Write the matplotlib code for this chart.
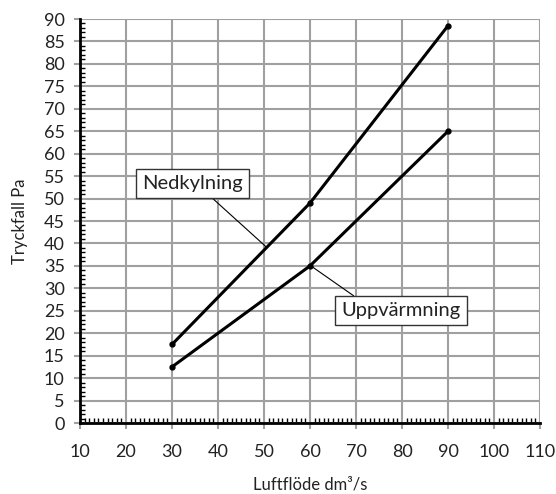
import matplotlib.pyplot as plt
from matplotlib.ticker import MultipleLocator

plt.rcParams['font.family'] = ['Lato', 'DejaVu Sans']

# Luftflöde och tryckfall
luftflode = [30, 60, 90]
nedkylning = [17.5, 49, 88.5]
uppvarmning = [12.5, 35, 65]

fig = plt.figure(figsize=(5.56, 4.94), dpi=100)
ax = fig.add_axes([80/556, 71/494, 460/556, 404/494])

ax.plot(luftflode, nedkylning, color='black', lw=2.2, marker='o', ms=3.5, zorder=3)
ax.plot(luftflode, uppvarmning, color='black', lw=2.2, marker='o', ms=3.5, zorder=3)

ax.set_xlim(10, 110)
ax.set_ylim(0, 90)
ax.xaxis.set_major_locator(MultipleLocator(10))
ax.xaxis.set_minor_locator(MultipleLocator(1))
ax.yaxis.set_major_locator(MultipleLocator(5))
ax.yaxis.set_minor_locator(MultipleLocator(1))

ax.grid(which='major', color='#a0a0a0', lw=1.5)
ax.set_axisbelow(True)
for s in ['top', 'right']:
    ax.spines[s].set_visible(False)
for s in ['left', 'bottom']:
    ax.spines[s].set_linewidth(2)
    ax.spines[s].set_zorder(4)

ax.tick_params(which='major', direction='out', length=4, width=1.5, color='#a0a0a0',
               labelsize=13, labelcolor='#222222')
ax.tick_params(axis='x', which='major', pad=11)
ax.tick_params(axis='y', which='major', pad=7)
ax.tick_params(which='minor', direction='in', length=3.5, width=1, color='black')

ax.set_xlabel('Luftflöde dm³/s', fontsize=12, labelpad=12, color='#222222')
ax.set_ylabel('Tryckfall Pa', fontsize=12, labelpad=11, color='#222222')

box = dict(boxstyle='square,pad=0.3', fc='white', ec='#333333', lw=1)
ax.annotate('Nedkylning', xy=(50.4, 39.3), xytext=(34.5, 53.3), fontsize=14.5,
            ha='center', va='center', color='#222222', bbox=box,
            arrowprops=dict(arrowstyle='-', color='black', lw=0.8, shrinkA=0, shrinkB=0,
                            relpos=(0.63, 0)), zorder=5)
ax.annotate('Uppvärmning', xy=(60.2, 35), xytext=(79.8, 25.0), fontsize=14.5,
            ha='center', va='center', color='#222222', bbox=box,
            arrowprops=dict(arrowstyle='-', color='black', lw=0.8, shrinkA=0, shrinkB=0,
                            relpos=(0.18, 1)), zorder=5)

fig.savefig('out.png', dpi=100)
